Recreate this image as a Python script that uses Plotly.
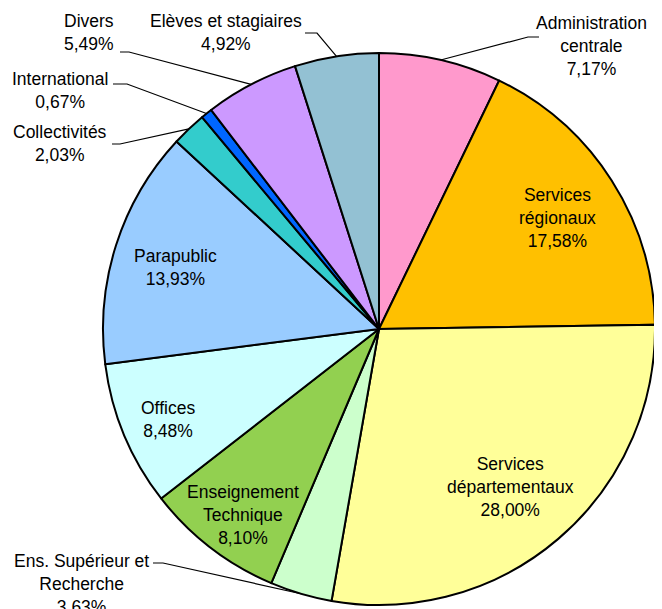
import math
import plotly.graph_objects as go

# ---- data ----
categories = ["Administration<br>centrale", "Services<br>régionaux", "Services<br>départementaux",
              "Ens. Supérieur et<br>Recherche", "Enseignement<br>Technique", "Offices",
              "Parapublic", "Collectivités", "International", "Divers", "Elèves et stagiaires"]
values = [7.17, 17.58, 28.00, 3.63, 8.10, 8.48, 13.93, 2.03, 0.67, 5.49, 4.92]
colors = ["#FF99CC", "#FFC000", "#FFFF99", "#CCFFCC", "#92D050", "#CCFFFF",
          "#99CCFF", "#33CCCC", "#0066FF", "#CC99FF", "#93C1D3"]

# ---- layout (pixels in the screenshot; page body adds an 8px offset) ----
W, H = 662, 609
OFF = 8
CX, CY, R = 379, 329, 276
# label centre (px)
label_pos = [(591, 46), (557, 218), (510, 487), (81, 584), (243, 515), (168, 420),
             (175, 267), (60, 143), (60, 90), (89, 33), (226, 33)]
# leader line points: label end, elbow (then to slice edge)
leaders = {0: [(539, 37), (528, 37)], 3: [(153, 563), (163, 563)],
           7: [(112, 144), (120, 144)], 8: [(113, 84), (127, 84)],
           9: [(120, 52), (129, 52)], 10: [(305, 33), (317, 33)]}

def px2paper(x, y):
    return (x - OFF) / W, 1 - (y - OFF) / H

x0, y1 = px2paper(CX - R, CY - R)
x1, y0 = px2paper(CX + R, CY + R)

fig = go.Figure(go.Pie(
    values=values, labels=[c.replace("<br>", " ") for c in categories],
    sort=False, direction="clockwise", rotation=0,
    marker=dict(colors=colors, line=dict(color="black", width=2)),
    textinfo="none", hoverinfo="label+percent", showlegend=False,
    domain=dict(x=[x0, x1], y=[y0, y1]),
))

def fmt(v):
    return f"{v:.2f}".replace(".", ",") + "%"

total = sum(values)
annotations, shapes = [], []
cum = 0.0
for i, (cat, v) in enumerate(zip(categories, values)):
    mid = (cum + v / 2) / total * 2 * math.pi
    cum += v
    lx, ly = label_pos[i]
    ax, ay = px2paper(lx, ly)
    annotations.append(dict(text=f"{cat}<br>{fmt(v)}", x=ax, y=ay, xref="paper", yref="paper",
                            xanchor="center", yanchor="middle", showarrow=False,
                            font=dict(family="Liberation Sans, Arial, sans-serif",
                                      size=17.5, color="black")))
    if i in leaders:
        ex = CX + R * math.sin(mid)
        ey = CY - R * math.cos(mid)
        pts = leaders[i] + [(ex, ey)]
        path = "M " + " L ".join(f"{px2paper(x, y)[0]:.5f},{px2paper(x, y)[1]:.5f}" for x, y in pts)
        shapes.append(dict(type="path", path=path, xref="paper", yref="paper",
                           line=dict(color="black", width=1.2)))

fig.update_layout(width=W, height=H, margin=dict(l=0, r=0, t=0, b=0),
                  paper_bgcolor="white", plot_bgcolor="white",
                  annotations=annotations, shapes=shapes)
fig.write_html("out.html")
